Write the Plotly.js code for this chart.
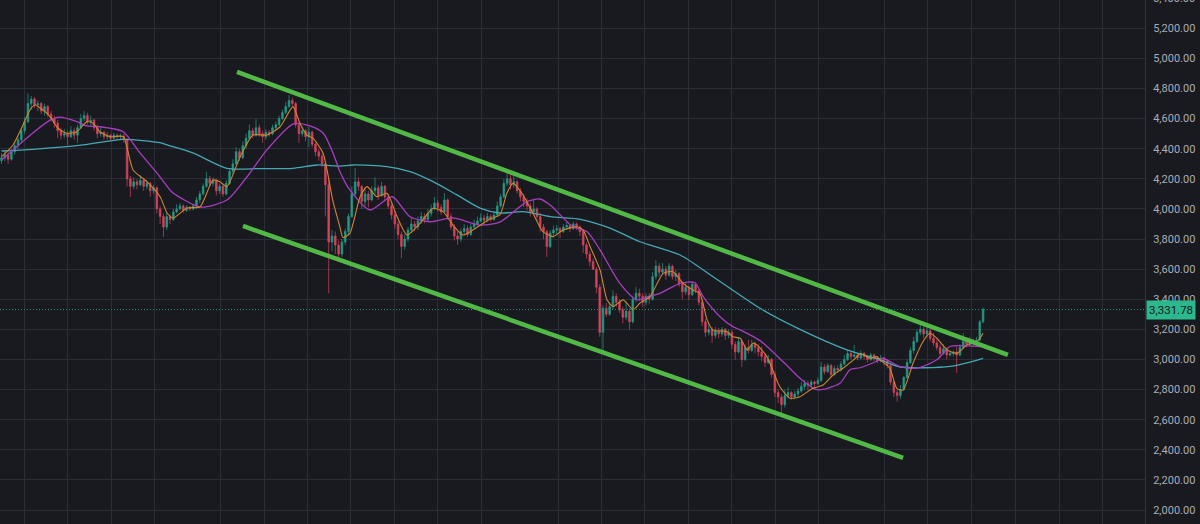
<!DOCTYPE html>
<html><head><meta charset="utf-8">
<script src="https://cdn.plot.ly/plotly-3.0.1.min.js"></script>
<style>html,body{margin:0;padding:0;background:#181a20;}#chart{width:1200px;height:524px;}</style>
</head><body><div id="chart"></div>
<script>
const open = [
4320,4340,4360,4330,4380,4420,4460,4520,4580,4700,
4730,4690,4700,4650,4680,4630,4600,4570,4520,4490,
4500,4480,4520,4490,4540,4600,4620,4580,4590,4540,
4500,4510,4480,4490,4470,4490,4480,4485,4460,4200,
4150,4180,4160,4190,4150,4170,4120,4140,4000,3950,
3880,3950,3930,3980,4000,4020,3990,4010,4000,4020,
4060,4100,4150,4200,4170,4190,4120,4150,4100,4170,
4250,4300,4380,4340,4420,4470,4520,4490,4540,4500,
4480,4510,4500,4540,4560,4600,4640,4680,4720,4700,
4560,4500,4520,4480,4510,4430,4380,4350,4300,4160,
3780,3820,3760,3700,3780,3850,3950,4100,4180,4150,
4050,4100,4060,4120,4140,4090,4150,4080,4020,3960,
3900,3830,3750,3800,3860,3900,3880,3920,3950,3930,
3970,4000,4040,4010,3980,4060,3950,3880,3820,3800,
3850,3870,3830,3880,3900,3920,3940,3925,3950,3930,
3960,4020,4080,4170,4200,4160,4180,4120,4080,4050,
4020,3980,4000,3950,3880,3850,3750,3840,3860,3870,
3850,3880,3890,3870,3900,3880,3850,3760,3700,3650,
3600,3480,3180,3340,3300,3350,3420,3380,3330,3280,
3320,3250,3400,3440,3420,3380,3420,3400,3550,3620,
3580,3600,3560,3620,3550,3570,3500,3450,3480,3430,
3500,3460,3380,3250,3180,3200,3160,3190,3170,3200,
3160,3180,3100,3050,3120,3000,3080,3060,3100,3080,
3050,3020,2980,3000,2900,2780,2750,2700,2760,2780,
2750,2770,2790,2820,2840,2830,2850,2840,2860,2950,
2920,2960,2900,2940,2930,2970,3000,3040,3020,3030,
3010,3040,3020,3000,3030,3010,2990,3010,2990,2960,
2850,2780,2760,2800,2880,2980,3060,3120,3180,3200,
3170,3190,3140,3110,3080,3040,3070,3030,3040,3050,
3030,3080,3120,3100,3130,3110,3130,3250];
const high = [
4370,4390,4375,4400,4440,4480,4540,4610,4766,4750,
4745,4720,4710,4700,4690,4650,4620,4590,4540,4530,
4520,4550,4540,4560,4630,4650,4640,4620,4600,4560,
4540,4520,4510,4500,4505,4500,4500,4500,4470,4220,
4210,4200,4225,4200,4190,4180,4160,4150,4020,3970,
3975,3965,4000,4030,4040,4030,4025,4020,4035,4080,
4120,4170,4245,4220,4210,4200,4170,4160,4190,4270,
4330,4410,4400,4450,4500,4560,4540,4597,4560,4520,
4530,4525,4560,4580,4620,4660,4710,4757,4740,4710,
4580,4545,4530,4545,4520,4440,4400,4370,4310,4200,
3860,3850,3790,3800,3870,3970,4150,4272,4210,4160,
4130,4120,4150,4210,4160,4180,4160,4100,4040,3990,
3920,3850,3830,3880,3940,3920,3950,3980,3970,4000,
4030,4080,4060,4030,4106,4070,3970,3900,3850,3870,
3900,3890,3900,3930,3950,3970,3960,3975,3965,3985,
4050,4100,4200,4254,4240,4225,4190,4140,4100,4070,
4040,4060,4010,3975,3900,3860,3860,3890,3893,3880,
3900,3914,3900,3914,3910,3890,3860,3775,3720,3670,
3615,3500,3360,3375,3380,3460,3440,3400,3350,3375,
3340,3420,3480,3470,3440,3440,3440,3580,3660,3640,
3640,3620,3640,3630,3595,3580,3510,3510,3490,3510,
3510,3470,3395,3270,3240,3215,3215,3210,3215,3210,
3200,3197,3120,3150,3130,3100,3130,3130,3120,3100,
3085,3040,3030,3010,2920,2800,2770,2800,2815,2790,
2790,2810,2850,2865,2860,2865,2860,2880,2985,2970,
2975,2970,2960,2960,2990,3030,3064,3050,3097,3045,
3060,3050,3030,3045,3040,3020,3030,3020,3000,2970,
2860,2800,2830,2890,3000,3080,3150,3200,3230,3215,
3215,3200,3175,3130,3100,3100,3080,3060,3060,3085,
3100,3175,3140,3150,3140,3150,3263,3345];
const low = [
4300,4320,4300,4320,4360,4400,4440,4500,4570,4660,
4670,4650,4630,4620,4610,4580,4540,4470,4460,4470,
4425,4470,4460,4440,4530,4580,4560,4550,4520,4470,
4480,4460,4460,4450,4455,4460,4460,4440,4150,4080,
4130,4130,4150,4120,4130,4080,4100,3970,3900,3814,
3860,3900,3920,3970,3990,3975,3980,3985,3990,4000,
4040,4090,4140,4150,4150,4090,4100,4080,4090,4160,
4230,4290,4320,4330,4400,4460,4470,4480,4480,4440,
4460,4480,4490,4520,4550,4590,4630,4670,4680,4540,
4440,4480,4450,4410,4410,4350,4320,4280,3950,3440,
3720,3700,3648,3680,3760,3830,3940,4080,4120,4000,
4020,4010,4050,4100,4060,4080,4050,4000,3930,3870,
3800,3675,3730,3780,3840,3850,3860,3900,3905,3920,
3950,3990,3980,3960,3970,3930,3860,3790,3762,3780,
3830,3815,3820,3870,3890,3910,3900,3915,3915,3920,
3950,4010,4070,4150,4130,4140,4100,4050,4013,3990,
3950,3960,3920,3850,3800,3681,3740,3810,3830,3807,
3840,3860,3847,3860,3860,3820,3707,3670,3620,3595,
3440,3150,3050,3283,3290,3330,3350,3310,3240,3260,
3197,3240,3380,3390,3350,3360,3370,3390,3530,3550,
3560,3530,3550,3530,3520,3480,3400,3430,3395,3420,
3440,3360,3220,3150,3160,3110,3140,3140,3150,3130,
3140,3070,3000,3040,2950,2990,3040,3050,3040,3020,
2990,2950,2970,2880,2750,2710,2633,2680,2740,2733,
2735,2750,2780,2800,2800,2820,2820,2830,2850,2900,
2910,2885,2890,2910,2920,2960,2990,3000,3010,2995,
3000,3000,2980,2990,2990,2975,2980,2960,2940,2830,
2750,2720,2740,2790,2870,2970,3040,3110,3160,3140,
3150,3120,3090,3060,3010,3030,3000,3020,3020,2910,
3020,3070,3080,3090,3090,3100,3120,3240];
const close = [
4340,4360,4330,4380,4420,4460,4520,4580,4700,4730,
4690,4700,4650,4680,4630,4600,4570,4520,4490,4500,
4480,4520,4490,4540,4600,4620,4580,4590,4540,4500,
4510,4480,4490,4470,4490,4480,4485,4460,4200,4150,
4180,4160,4190,4150,4170,4120,4140,4000,3950,3880,
3950,3930,3980,4000,4020,3990,4010,4000,4020,4060,
4100,4150,4200,4170,4190,4120,4150,4100,4170,4250,
4300,4380,4340,4420,4470,4520,4490,4540,4500,4480,
4510,4500,4540,4560,4600,4640,4680,4720,4700,4560,
4500,4520,4480,4510,4430,4380,4350,4300,4160,3780,
3820,3760,3700,3780,3850,3950,4100,4180,4150,4050,
4100,4060,4120,4140,4090,4150,4080,4020,3960,3900,
3830,3750,3800,3860,3900,3880,3920,3950,3930,3970,
4000,4040,4010,3980,4060,3950,3880,3820,3800,3850,
3870,3830,3880,3900,3920,3940,3925,3950,3930,3960,
4020,4080,4170,4200,4160,4180,4120,4080,4050,4020,
3980,4000,3950,3880,3850,3750,3840,3860,3870,3850,
3880,3890,3870,3900,3880,3850,3760,3700,3650,3600,
3480,3180,3340,3300,3350,3420,3380,3330,3280,3320,
3250,3400,3440,3420,3380,3420,3400,3550,3620,3580,
3600,3560,3620,3550,3570,3500,3450,3480,3430,3500,
3460,3380,3250,3180,3200,3160,3190,3170,3200,3160,
3180,3100,3050,3120,3000,3080,3060,3100,3080,3050,
3020,2980,3000,2900,2780,2750,2700,2760,2780,2750,
2770,2790,2820,2840,2830,2850,2840,2860,2950,2920,
2960,2900,2940,2930,2970,3000,3040,3020,3030,3010,
3040,3020,3000,3030,3010,2990,3010,2990,2960,2850,
2780,2760,2800,2880,2980,3060,3120,3180,3200,3170,
3190,3140,3110,3080,3040,3070,3030,3040,3050,3030,
3080,3120,3100,3130,3110,3130,3250,3331.78];

// moving averages (bar index, price)
const maFastBar = [0,3.5,6.5,8.6,10.1,11.6,14.7,17.1,19.8,22.8,25.9,27.7,29.8,32.8,36.8,39.8,44,48,50.1,51.9,56.1,60.1,64,66.1,68.2,72.2,76.1,80.3,84.3,88.2,90.3,92.4,94.3,97.3,100.3,102.4,103.3,105.4,108.5,110.6,113.6,116.6,119.7,122.7,126.6,130.6,133.6,136.6,139.6,142.6,147.8,150.8,152.9,154.8,157.8,160.8,163.8,166.9,169.9,174.1,176,178.1,181.1,183.2,185,188.1,191.1,193.2,196.2,200.2,203.2,206.2,209.2,211.3,213.5,215.3,219.5,221.3,223.5,225.6,227.4,228.6,231.6,235.5,238.6,241.6,245.5,248.6,251.6,254.6,258.9,259.8,262.8,264.9,265.8,268.8,270.9,272.8,275.8,278.8,280.9,283,286.1,289.1,292.1,295.2,297];
const maFastVal = [4347,4425,4557,4657,4690,4672,4613,4536,4502,4513,4580,4569,4513,4480,4480,4259,4181,4081,3973,3940,4006,4015,4192,4181,4148,4347,4491,4491,4546,4680,4569,4491,4469,4370,4050,3880,3810,3838,4081,4148,4081,4104,3948,3827,3904,4004,3982,3893,3827,3860,3933,3960,4104,4170,4093,3971,3849,3816,3860,3882,3860,3749,3595,3396,3351,3396,3330,3375,3417,3572,3583,3506,3462,3439,3263,3195,3185,3151,3141,3064,3108,3097,3019,2819,2742,2753,2808,2830,2897,2942,3019,3041,3008,3019,2998,2942,2808,2797,2975,3118,3174,3141,3064,3041,3097,3118,3174];
const maMidBar = [0,9.5,14.7,17.7,22.8,25.9,29.8,36.8,41.9,47,51,51.9,60.1,68.2,74.3,80.3,88.2,93.3,97.3,100.3,102.4,105.4,111.5,118.2,123.6,129.7,136.6,144.8,150.8,159,162.9,166,172.9,177.2,181.1,187.1,192.3,196.2,199.2,205.3,209.8,212.3,217.4,221.3,223.5,229.5,236.5,241.6,246.8,253.7,256.7,259.8,265.8,266.7,271.9,277,283,287,292.1,296.1];
const maMidVal = [4325,4505,4590,4610,4580,4551,4546,4513,4372,4239,4126,4106,4013,4059,4214,4392,4564,4551,4504,4372,4247,4126,3993,4081,3948,3915,3940,3893,3913,4048,4066,4026,3882,3849,3728,3506,3396,3420,3439,3506,3510,3417,3284,3218,3197,3125,2985,2875,2799,2842,2932,2945,2998,3008,2953,2942,2998,3086,3090,3086];
const maSlowBar = [0,9.5,24.7,36.8,48,50.1,57.9,68.2,78,88.2,95.5,102.4,106.4,116.6,123.6,130.6,137.8,144.8,150.8,157.8,166,175.1,184.1,193.2,205.3,215.3,229.5,241.6,255.8,265.8,271.9,287,297];
const maSlowVal = [4385,4396,4425,4462,4440,4425,4372,4270,4268,4270,4292,4285,4292,4281,4248,4181,4093,4006,3973,3982,3949,3931,3873,3782,3694,3550,3340,3200,3064,2998,2950,2954,3008];

// drawn channel lines (bar index, price)
const upperLineBar = [71.26, 304.5];
const upperLinePrice = [4910, 3030];
const lowerLineBar = [73.07, 272.8];
const lowerLinePrice = [3887, 2347];

// price scale
const priceRange = [1907, 5388];
const topTick = 5400;

const lastPrice = close[close.length - 1];
const bars = close.map((_, i) => i);

const UP = '#229c85', DOWN = '#d6435a', BG = '#181a20', GRID = '#2a2e39';
const fmt = v => v.toLocaleString('en-US',{minimumFractionDigits:2, maximumFractionDigits:2});
const traces = [
  {type:'candlestick', x:bars, open:open, high:high, low:low, close:close,
   increasing:{line:{color:UP,width:0.7}, fillcolor:UP},
   decreasing:{line:{color:DOWN,width:0.7}, fillcolor:DOWN},
   whiskerwidth:0, hoverinfo:'skip'},
  {type:'scatter', mode:'lines', x:maSlowBar, y:maSlowVal, line:{color:'#45a8b2', width:1.3, shape:'spline', smoothing:0.7}, hoverinfo:'skip'},
  {type:'scatter', mode:'lines', x:maMidBar, y:maMidVal, line:{color:'#a93dc0', width:1.3, shape:'spline', smoothing:0.7}, hoverinfo:'skip'},
  {type:'scatter', mode:'lines', x:maFastBar, y:maFastVal, line:{color:'#d08530', width:1.1, shape:'spline', smoothing:0.6}, hoverinfo:'skip'},
  {type:'scatter', mode:'lines', x:upperLineBar, y:upperLinePrice, line:{color:'#52b947', width:4.5}, hoverinfo:'skip'},
  {type:'scatter', mode:'lines', x:lowerLineBar, y:lowerLinePrice, line:{color:'#52b947', width:4.5}, hoverinfo:'skip'}
];
const layout = {
  width:1200, height:524, margin:{l:0, r:55, t:0, b:0},
  paper_bgcolor:BG, plot_bgcolor:BG, showlegend:false,
  xaxis:{range:[-0.454, 345.99], tickmode:'array',
    tickvals:[6.84,20.03,33.25,46.44,66.23,79.43,92.44,105.63,118.82,132.01,145.2,168.38,181.6,194.64,207.84,220.91,234.13,247.32,267.11,280.33,293.52,306.84,320.03,333.13],
    showticklabels:false, showgrid:true, gridcolor:GRID, gridwidth:1, zeroline:false, ticks:'',
    rangeslider:{visible:false}, fixedrange:true},
  yaxis:{range:priceRange, side:'right', tick0:0, dtick:200, tickformat:',.2f',
    showgrid:true, gridcolor:GRID, gridwidth:1, zeroline:false, showline:true, linecolor:'#2f333e', linewidth:1,
    ticks:'outside', ticklen:5, tickcolor:'rgba(0,0,0,0)',
    tickfont:{family:'Roboto', size:11, color:'#a9acb5'}, fixedrange:true},
  shapes:[{type:'line', xref:'paper', x0:0, x1:1, yref:'y', y0:lastPrice, y1:lastPrice,
    line:{color:'#1f8a6e', width:1, dash:'1px,2px'}}],
  annotations:[
    {xref:'paper', x:1, xanchor:'left', xshift:1, yref:'y', y:lastPrice, yanchor:'middle',
     text:fmt(lastPrice), showarrow:false, bgcolor:'#2bb88c', borderpad:2,
     font:{family:'Roboto', size:11.5, color:'#10151a'}},
    {xref:'paper', x:1, xanchor:'left', xshift:6, yref:'paper',
     y:(topTick - priceRange[0]) / (priceRange[1] - priceRange[0]), yanchor:'middle',
     text:fmt(topTick), showarrow:false, font:{family:'Roboto', size:11, color:'#a9acb5'}}
  ]
};
Plotly.newPlot('chart', traces, layout, {displayModeBar:false, staticPlot:true});
</script></body></html>
